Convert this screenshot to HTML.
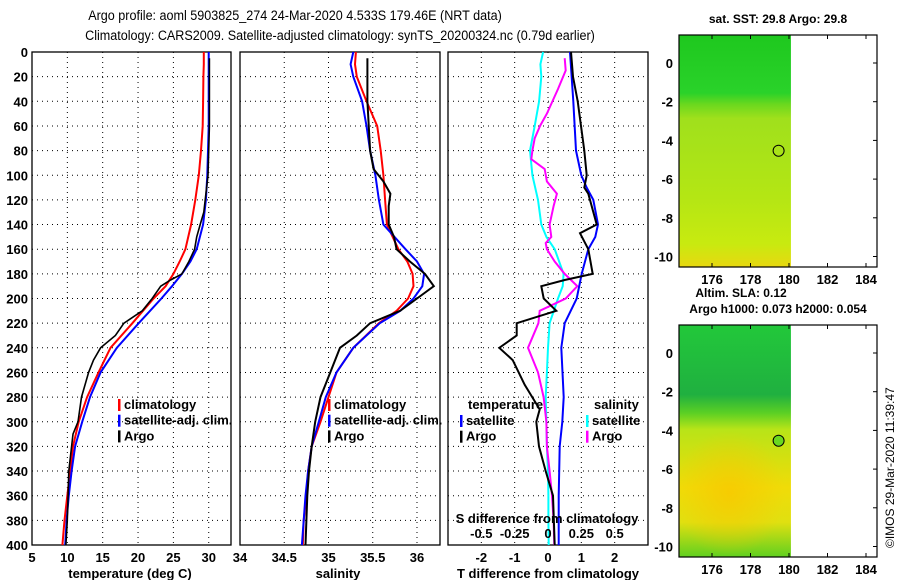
<!DOCTYPE html>
<html><head><meta charset="utf-8"><style>
body{margin:0;background:#fff}
svg{display:block;font-family:"Liberation Sans",sans-serif;font-weight:bold}
</style></head><body>
<svg id="c" width="900" height="580" viewBox="0 0 900 580">
<text x="295" y="20" font-size="14" font-weight="normal" text-anchor="middle" transform="translate(295,0) scale(0.9,1) translate(-295,0)">Argo profile: aoml 5903825_274 24-Mar-2020 4.533S 179.46E (NRT data)</text>
<text x="340" y="40" font-size="14" font-weight="normal" text-anchor="middle" transform="translate(340,0) scale(0.9,1) translate(-340,0)">Climatology: CARS2009. Satellite-adjusted climatology: synTS_20200324.nc (0.79d earlier)</text>
<defs>
<linearGradient id="g1" x1="0" y1="0" x2="0" y2="1">
<stop offset="0" stop-color="#1ec81e"/><stop offset="0.25" stop-color="#2ad22a"/><stop offset="0.3" stop-color="#6cd81e"/><stop offset="0.36" stop-color="#a0e01c"/><stop offset="0.7" stop-color="#b4e614"/><stop offset="0.9" stop-color="#c8ea10"/><stop offset="1" stop-color="#e8d810"/>
</linearGradient>
<linearGradient id="g2" x1="0" y1="0" x2="0" y2="1">
<stop offset="0" stop-color="#22c83a"/><stop offset="0.3" stop-color="#20b040"/><stop offset="0.38" stop-color="#5cd024"/><stop offset="0.45" stop-color="#b8e418"/><stop offset="0.7" stop-color="#f0dc08"/><stop offset="0.85" stop-color="#e0e010"/><stop offset="1" stop-color="#60d020"/>
</linearGradient>
<radialGradient id="g2b" cx="0.45" cy="0.5" r="0.5"><stop offset="0" stop-color="#f8c800" stop-opacity="0.8"/><stop offset="1" stop-color="#f8c800" stop-opacity="0"/></radialGradient>
</defs>
<g id="plots"></g>
<text x="0" y="0" font-size="12" font-weight="normal" transform="translate(894,548) rotate(-90)">©IMOS 29-Mar-2020 11:39:47</text>
</svg>
<script>
const depths=[0,10,20,40,60,80,100,120,140,160,170,180,190,200,210,220,240,260,280,300,320,340,360,380,400];
const tClim=[29.3,29.3,29.25,29.2,29.15,28.9,28.6,28.1,27.5,26.7,25.9,25.0,23.9,22.2,20.7,19.2,16.1,14.4,12.8,11.6,10.8,10.4,10.0,9.6,9.3];
const tSat=[30.0,30.0,30.0,30.0,30.0,29.9,29.8,29.6,29.2,28.3,27.4,26.2,24.8,23.3,21.7,20.1,17.0,14.7,13.2,12.1,11.1,10.6,10.2,9.9,9.7];
const argoDepths=[5,20,40,60,80,100,130,140,150,160,170,180,185,190,200,210,220,230,240,250,260,280,300,310,340,360,380,400];
const tArgo=[30.1,30.1,30.1,30.1,30.0,29.9,29.3,28.8,28.3,28.0,27.2,26.2,24.6,23.2,22.0,20.6,18.0,16.8,14.7,13.7,13.0,12.0,11.5,10.8,10.2,10.1,10.0,9.8];
const sClim=[35.31,35.30,35.32,35.43,35.55,35.59,35.62,35.64,35.66,35.79,35.89,35.95,35.96,35.90,35.77,35.57,35.28,35.09,35.0,34.91,34.81,34.77,34.75,34.72,34.71];
const sSat=[35.28,35.25,35.28,35.38,35.43,35.47,35.53,35.57,35.62,35.87,36.0,36.08,36.06,35.96,35.81,35.58,35.28,35.09,34.97,34.89,34.81,34.77,34.74,34.72,34.70];
const sArgoDepths=[5,40,80,95,105,115,125,140,150,160,170,180,190,200,210,220,230,240,260,280,300,320,340,360,380,400];
const sArgo=[35.44,35.44,35.47,35.51,35.62,35.70,35.68,35.68,35.74,35.77,35.92,36.09,36.19,36.0,35.81,35.47,35.32,35.13,35.02,34.91,34.85,34.81,34.78,34.76,34.75,34.74];
const dtDepths=[0,40,80,100,110,120,140,150,160,180,200,220,240,280,300,320,360,400];
const dtSat=[0.66,0.76,0.84,1.0,1.16,1.36,1.5,1.42,1.21,1.01,0.86,0.5,0.4,0.47,0.43,0.35,0.32,0.32];
const dtArgoDepths=[0,20,40,80,100,110,115,140,147,160,180,185,190,200,210,220,230,240,250,270,290,300,320,340,360,400];
const dtArgo=[0.69,0.75,0.89,1.09,1.16,1.09,1.21,1.46,0.96,1.21,1.34,0.5,-0.2,-0.13,0.25,-0.94,-0.94,-1.46,-1.06,-0.7,-0.25,-0.35,-0.27,-0.07,0.15,0.2];
const dsSatDepths=[0,10,20,40,60,80,100,120,140,150,160,180,190,200,220,240,260,280,300,320,340,360,380,400];
const dsSat=[-0.037,-0.057,-0.05,-0.067,-0.1,-0.135,-0.117,-0.075,-0.05,-0.012,0.05,0.117,0.11,0.075,0.012,0,-0.008,-0.017,-0.012,-0.008,0,0.003,0.003,0.005];
const dsArgoDepths=[5,15,30,50,60,70,80,87,95,105,115,125,140,150,155,160,170,180,190,200,210,220,240,260,280,300,320,340,360,380,400];
const dsArgo=[0.125,0.133,0.075,-0.008,-0.06,-0.1,-0.117,-0.125,-0.025,-0.008,0.067,0.042,0.012,0.025,-0.017,-0.008,0.05,0.125,0.22,0.133,-0.062,-0.072,-0.15,-0.075,-0.033,-0.012,-0.008,0.012,0.03,0.042,0.047];
const depthTicks=[0,20,40,60,80,100,120,140,160,180,200,220,240,260,280,300,320,340,360,380,400];
const tTicks=[5,10,15,20,25,30];
const sTicks=[34,34.5,35,35.5,36];
const dtTicks=[-2,-1,0,1,2];
const dsTicks=[-0.5,-0.25,0,0.25,0.5];
const latTicks=[0,-2,-4,-6,-8,-10];
const lonTicks=[176,178,180,182,184];
const argoPos=[179.46,-4.533];

const NS='http://www.w3.org/2000/svg';
const root=document.getElementById('plots');
function mk(tag,attrs,parent,txt){const e=document.createElementNS(NS,tag);for(const k in attrs)e.setAttribute(k,attrs[k]);if(txt!==undefined)e.textContent=txt;(parent||root).appendChild(e);return e;}
const Y0=52,Y1=545;
const yD=d=>Y0+(d/400)*(Y1-Y0);
function lin(d0,d1,r0,r1){return v=>r0+(v-d0)/(d1-d0)*(r1-r0);}
const xT=lin(5,33.15,32,231);
const xS=lin(34,36.26,240,440);
const xDT=lin(-3,3,448,648);
const xDS=lin(-0.75,0.75,448,648);

function panel(name,x0,x1,xs,ticks,gridTicks,label,labelX){
  const g=mk('g',{}, root);
  
  depthTicks.forEach(d=>{if(d>0&&d<400){const l=mk('line',{x1:x0,x2:x1,y1:yD(d),y2:yD(d),stroke:'#000','stroke-dasharray':'1,4','stroke-width':1},g);}});
  gridTicks.forEach(v=>{const l=mk('line',{x1:xs(v),x2:xs(v),y1:Y0,y2:Y1,stroke:'#000','stroke-dasharray':'1,4'},g);});
  const r=mk('rect',{x:x0,y:Y0,width:x1-x0,height:Y1-Y0,fill:'none',stroke:'#000','stroke-width':1.3},g);
  
  ticks.forEach(v=>{const t=mk('text',{x:xs(v),y:562,'font-size':13,'text-anchor':'middle'},g,String(v));});
  const t=mk('text',{x:labelX,y:578,'font-size':13,'text-anchor':'middle'},g,label);
  
  return g;
}
function curve(g,name,ds,vs,xs,color,w){
  const pts=ds.map((d,i)=>xs(vs[i]).toFixed(1)+','+yD(d).toFixed(1)).join(' ');
  const p=mk('polyline',{points:pts,fill:'none',stroke:color,'stroke-width':w},g);
  
}
function legend(g,x,y,items){
  items.forEach((it,i)=>{const yy=y+i*15.7;
    const m=mk('rect',{x:x,y:yy-10,width:2.5,height:12,fill:it[1]},g);
    const t=mk('text',{x:x+6,y:yy,'font-size':13},g,it[0]);});
}
// Panel 1
const g1=panel('temperature-panel',32,231,xT,tTicks,[10,15,20,25,30],'temperature (deg C)',130);
depthTicks.forEach(d=>{const t=mk('text',{x:28,y:yD(d)+5,'font-size':13,'text-anchor':'end'},g1,String(d));});
curve(g1,'temp-climatology-line',depths,tClim,xT,'#f00',2);
curve(g1,'temp-satellite-line',depths,tSat,xT,'#00f',2);
curve(g1,'temp-argo-line',argoDepths,tArgo,xT,'#000',1.6);
legend(g1,118,409,[['climatology','#f00'],['satellite-adj. clim.','#00f'],['Argo','#000']]);
// Panel 2
const g2=panel('salinity-panel',240,440,xS,sTicks,[34.5,35,35.5,36],'salinity',338);
curve(g2,'sal-climatology-line',depths,sClim,xS,'#f00',2);
curve(g2,'sal-satellite-line',depths,sSat,xS,'#00f',2);
curve(g2,'sal-argo-line',sArgoDepths,sArgo,xS,'#000',2);
legend(g2,328,409,[['climatology','#f00'],['satellite-adj. clim.','#00f'],['Argo','#000']]);
// Panel 3
const g3=panel('difference-panel',448,648,xDT,dtTicks,[-2,-1,0,1,2],'T difference from climatology',548);
curve(g3,'sal-diff-satellite-line',dsSatDepths,dsSat,xDS,'#0ff',2);
curve(g3,'sal-diff-argo-line',dsArgoDepths,dsArgo,xDS,'#f0f',2);
curve(g3,'temp-diff-satellite-line',dtDepths,dtSat,xDT,'#00f',2);
curve(g3,'temp-diff-argo-line',dtArgoDepths,dtArgo,xDT,'#000',2);
{const t=mk('text',{x:468,y:409,'font-size':13},g3,'temperature');
 const t2=mk('text',{x:594,y:409,'font-size':13},g3,'salinity');}
legend(g3,460,425,[['satellite','#00f'],['Argo','#000']]);
legend(g3,586,425,[['satellite','#0ff'],['Argo','#f0f']]);
{const t=mk('text',{x:547,y:523,'font-size':13,'text-anchor':'middle'},g3,'S difference from climatology');}
dsTicks.forEach(v=>{const t=mk('text',{x:xDS(v),y:538,'font-size':13,'text-anchor':'middle'},g3,String(v));});

// Maps
function map(name,top,title,titleY,grad,extra,markFill){
  const g=mk('g',{},root);
  const L=679,R=877,B=top+232;
  const lat=v=>top+28+(-v)*19.35;
  const lon=v=>712+(v-176)*19.25;
  const img=mk('rect',{x:L,y:top,width:lon(180.1)-L,height:B-top,fill:'url(#'+grad+')'},g);
  
  if(extra){const e=mk('rect',{x:L,y:lat(-4),width:lon(180.1)-L,height:lat(-10.5)-lat(-4),fill:'url(#'+extra+')'},g);}
  const f=mk('rect',{x:L,y:top,width:R-L,height:B-top,fill:'none',stroke:'#000','stroke-width':1.2},g);
  
  latTicks.forEach(v=>{mk('line',{x1:R,x2:R-4,y1:lat(v),y2:lat(v),stroke:'#000'},g);
    const t=mk('text',{x:673,y:lat(v)+5,'font-size':13,'text-anchor':'end'},g,String(v));});
  lonTicks.forEach(v=>{mk('line',{x1:lon(v),x2:lon(v),y1:top,y2:top+4,stroke:'#000'},g);mk('line',{x1:lon(v),x2:lon(v),y1:B,y2:B-4,stroke:'#000'},g);
    const t=mk('text',{x:lon(v),y:B+17,'font-size':13,'text-anchor':'middle'},g,String(v));});
  const c=mk('circle',{cx:lon(argoPos[0]),cy:lat(argoPos[1]),r:5.5,fill:markFill,stroke:'#000'},g);
  
  const t=mk('text',{x:778,y:titleY,'font-size':12,'text-anchor':'middle'},g,title);
}
map('sst-map',35,'sat. SST: 29.8 Argo: 29.8',23,'g1',null,'none');
map('sla-map',325,'Argo h1000: 0.073 h2000: 0.054',313,'g2','g2b','#6ad820');
{const t=mk('text',{x:741,y:297,'font-size':12,'text-anchor':'middle'},root,'Altim. SLA: 0.12');}
</script>
</body></html>
